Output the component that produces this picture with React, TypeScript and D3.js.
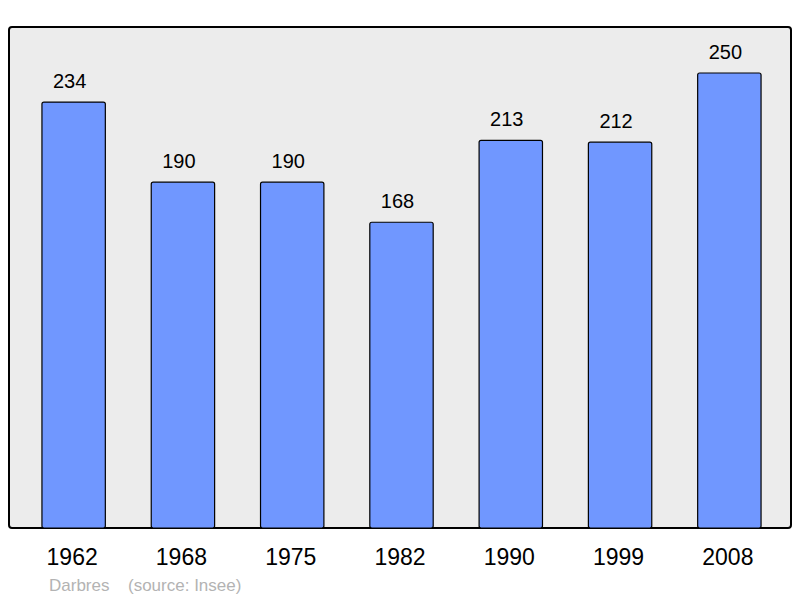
import React from "react";
import * as d3 from "d3";

const years = ["1962", "1968", "1975", "1982", "1990", "1999", "2008"];
const population = [234, 190, 190, 168, 213, 212, 250];
const town = "Darbres";
const source = "(source: Insee)";

const width = 800;
const height = 598;
const frame = { left: 9, top: 27, right: 791, bottom: 528 };

export default function App() {
  const x = d3
    .scaleBand<string>()
    .domain(years)
    .range([19, 784])
    .paddingInner(0.42)
    .paddingOuter(0.21);

  const y = d3
    .scaleLinear()
    .domain([0, 250])
    .range([frame.bottom, 73]);

  const font = "'Liberation Sans', Arial, sans-serif";

  return (
    <svg
      width={width}
      height={height}
      style={{ position: "absolute", left: 0, top: 0 }}
    >
      <rect x={0} y={0} width={width} height={height} fill="#fff" />
      <rect
        x={frame.left}
        y={frame.top}
        width={frame.right - frame.left}
        height={frame.bottom - frame.top}
        rx={3}
        fill="#ececec"
        stroke="#000"
        strokeWidth={2}
      />
      {years.map((yr, i) => {
        const v = population[i];
        const bx = x(yr)!;
        const cx = bx + x.bandwidth() / 2;
        return (
          <g key={yr}>
            <rect
              x={bx}
              y={y(v)}
              width={x.bandwidth()}
              height={frame.bottom - y(v)}
              rx={2}
              fill="#7097ff"
              stroke="#000"
              strokeWidth={1.2}
            />
            <text
              x={cx - 4}
              y={y(v) - 14}
              textAnchor="middle"
              fontFamily={font}
              fontSize={20}
              fill="#000"
            >
              {v}
            </text>
            <text
              x={cx - 1.5}
              y={565}
              textAnchor="middle"
              fontFamily={font}
              fontSize={23}
              fill="#000"
            >
              {yr}
            </text>
          </g>
        );
      })}
      <text x={49} y={590.5} fontFamily={font} fontSize={17} fill="#b3b3b3">
        {town}
      </text>
      <text x={128} y={590.5} fontFamily={font} fontSize={17} fill="#b3b3b3">
        {source}
      </text>
    </svg>
  );
}
